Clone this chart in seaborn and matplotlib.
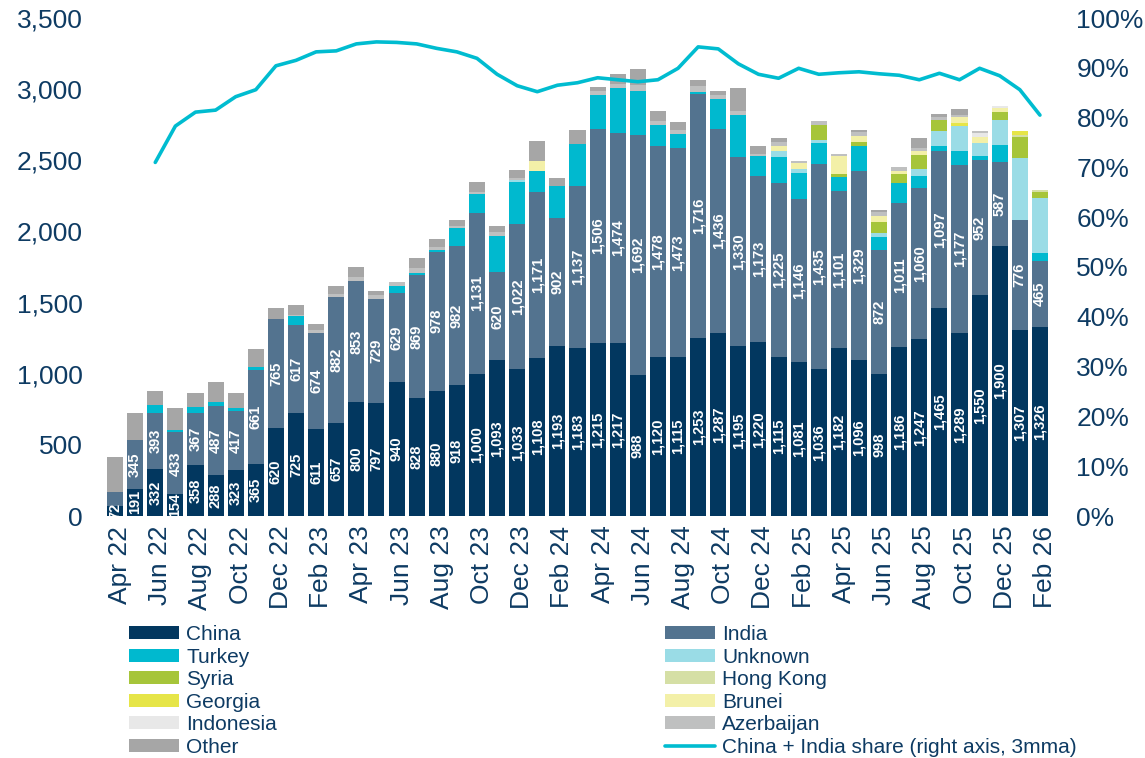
import matplotlib
matplotlib.use("Agg")
import matplotlib.pyplot as plt
from matplotlib.lines import Line2D
from matplotlib.patches import Patch, Rectangle
from matplotlib.ticker import FuncFormatter
from matplotlib.transforms import ScaledTranslation
import numpy as np
import pandas as pd
import seaborn as sns

# Monthly arrivals by origin, Apr 22 .. Feb 26
MONTHS = pd.date_range("2022-04-01", "2026-02-01", freq="MS").strftime("%b %y").tolist()

CHINA = [72, 191, 332, 154, 358, 288, 323, 365, 620, 725, 611, 657, 800, 797, 940, 828,
         880, 918, 1000, 1093, 1033, 1108, 1193, 1183, 1215, 1217, 988, 1120, 1115, 1253,
         1287, 1195, 1220, 1115, 1081, 1036, 1182, 1096, 998, 1186, 1247, 1465, 1289, 1550,
         1900, 1307, 1326]
INDIA = [95, 345, 393, 433, 367, 487, 417, 661, 765, 617, 674, 882, 853, 729, 629, 869,
         978, 982, 1131, 620, 1022, 1171, 902, 1137, 1506, 1474, 1692, 1478, 1473, 1716,
         1436, 1330, 1173, 1225, 1146, 1435, 1101, 1329, 872, 1011, 1060, 1097, 1177, 952,
         587, 776, 465]
TURKEY = [0, 0, 54, 20, 43, 25, 16, 21, 0, 62, 0, 0, 0, 0, 50, 14,
          14, 122, 130, 255, 295, 145, 225, 293, 235, 320, 310, 150, 95, 14,
          211, 290, 135, 185, 182, 147, 98, 175, 91, 140, 84, 35, 98, 28,
          119, 0, 56]
UNKNOWN = [0] * 20 + [14] + [0] * 12 + [42, 28, 28, 0, 0, 28, 0, 49, 112, 175, 91, 175, 435, 386]
SYRIA = [0] * 35 + [105, 21, 28, 77, 70, 98, 77, 0, 0, 56, 147, 42]
HONG_KONG = [0] * 45 + [14, 14]
GEORGIA = [0] * 42 + [21, 0, 0, 28, 0]
BRUNEI = [0] * 21 + [70] + [0] * 11 + [35, 42, 0, 126, 42, 42, 21, 28, 0, 42, 42, 28, 0, 0]
INDONESIA = [0] * 43 + [28, 14, 0, 0]
AZERBAIJAN = [0, 0, 0, 0, 0, 0, 0, 0, 0, 12, 25, 20, 28, 28, 28, 35,
              21, 14, 14, 28, 14, 0, 0, 0, 28, 28, 42, 28, 28, 42,
              28, 28, 14, 28, 14, 28, 14, 28, 28, 28, 21, 21, 14, 14,
              0, 0, 0]
OTHER = [245, 185, 98, 155, 98, 140, 110, 126, 75, 70, 42, 56, 70, 28, 0, 70,
         56, 42, 70, 42, 56, 140, 56, 98, 28, 70, 112, 70, 56, 42,
         28, 168, 56, 28, 0, 0, 0, 14, 14, 0, 70, 21, 42, 0,
         0, 0, 0]

# China + India share, 3-month moving average (starts Jun 22)
SHARE_MONTHS = MONTHS[2:]
SHARE = [71.0, 78.3, 81.1, 81.5, 84.2, 85.6, 90.4, 91.5, 93.2, 93.4, 94.8, 95.2, 95.1,
         94.8, 93.9, 93.2, 91.9, 88.7, 86.4, 85.2, 86.5, 87.0, 88.0, 87.6, 87.2, 87.6,
         89.9, 94.2, 93.8, 90.8, 88.7, 87.9, 89.9, 88.7, 89.0, 89.2, 88.8, 88.5, 87.6,
         88.9, 87.6, 89.9, 88.4, 85.6, 80.5]

SERIES = [
    ("China", CHINA, "#02375f"),
    ("India", INDIA, "#53738f"),
    ("Turkey", TURKEY, "#00b9cf"),
    ("Unknown", UNKNOWN, "#9adce6"),
    ("Syria", SYRIA, "#a6c53a"),
    ("Hong Kong", HONG_KONG, "#d5dfa5"),
    ("Georgia", GEORGIA, "#e6e548"),
    ("Brunei", BRUNEI, "#f3f0a8"),
    ("Indonesia", INDONESIA, "#e8e8e8"),
    ("Azerbaijan", AZERBAIJAN, "#bfc0c0"),
    ("Other", OTHER, "#a6a6a6"),
]
LINE_COLOR = "#00bcd0"
TEXT_COLOR = "#0e3b63"

sns.set_theme(style="white")
plt.rcParams["font.family"] = ["Liberation Sans", "DejaVu Sans"]

df = pd.DataFrame({"month": MONTHS})
for name, vals, _ in SERIES:
    df[name] = vals
names = [s[0] for s in SERIES]
cum = df[names].cumsum(axis=1)
cum["month"] = MONTHS

fig = plt.figure(figsize=(11.45, 7.58), dpi=100)
ax = fig.add_axes([105 / 1145, 242 / 758, 945 / 1145, 498 / 758])

# stacked bars: draw cumulative totals from the top series down
for name, _, color in reversed(SERIES):
    sns.barplot(data=cum, x="month", y=name, order=MONTHS, color=color, saturation=1,
                width=0.8, linewidth=0, errorbar=None, ax=ax)

# value labels for China and India, clipped to their segment
bottoms = {"China": np.zeros(len(MONTHS)), "India": np.array(CHINA, dtype=float)}
for name, vals in (("China", CHINA), ("India", INDIA)):
    for i, v in enumerate(vals):
        if name == "India" and i == 0:
            continue
        b = bottoms[name][i]
        clip = Rectangle((i - 0.4, b), 0.8, v, transform=ax.transData)
        t = ax.text(i, b + v / 2, f"{v:,}", rotation=90, ha="center", va="center",
                    color="white", fontsize=10.5, fontweight="bold")
        t.set_clip_path(clip)

ax.set_xlim(-0.5, len(MONTHS) - 0.5)
ax.set_ylim(0, 3500)
ax.set_yticks(np.arange(0, 3501, 500))
ax.yaxis.set_major_formatter(FuncFormatter(lambda v, _: f"{v:,.0f}"))
ax.set_xticks(range(0, len(MONTHS), 2))
ax.set_xticklabels(MONTHS[::2])
ax.tick_params(axis="x", rotation=90, length=0, pad=7, labelsize=19, colors=TEXT_COLOR)
ax.tick_params(axis="y", length=0, pad=16, labelsize=19, colors=TEXT_COLOR)
shift = ScaledTranslation(5 / 100, 0, fig.dpi_scale_trans)
for lab in ax.get_xticklabels():
    lab.set_transform(lab.get_transform() + shift)
ax.set_xlabel("")
ax.set_ylabel("")
for sp in ax.spines.values():
    sp.set_visible(False)

ax2 = ax.twinx()
share_x = [MONTHS.index(m) for m in SHARE_MONTHS]
sns.lineplot(x=share_x, y=np.array(SHARE) / 100, color=LINE_COLOR, linewidth=2.6, ax=ax2)
ax2.set_ylim(0, 1)
ax2.set_yticks(np.arange(0, 1.01, 0.1))
ax2.yaxis.set_major_formatter(FuncFormatter(lambda v, _: f"{v * 100:.0f}%"))
ax2.tick_params(axis="y", length=0, pad=19, labelsize=19, colors=TEXT_COLOR)
ax2.set_xlim(-0.5, len(MONTHS) - 0.5)
for sp in ax2.spines.values():
    sp.set_visible(False)

# legend in two columns, as in the source layout
colors = {n: c for n, _, c in SERIES}
left_names = ["China", "Turkey", "Syria", "Georgia", "Indonesia", "Other"]
right_names = ["India", "Unknown", "Hong Kong", "Brunei", "Azerbaijan"]
leg_kw = dict(loc="upper left", frameon=False, fontsize=15, handlelength=2.4,
              handleheight=0.58, handletextpad=0.35, labelspacing=0.17,
              borderpad=0, borderaxespad=0, labelcolor=TEXT_COLOR)
fig.legend([Patch(facecolor=colors[n], edgecolor="none") for n in left_names], left_names,
           bbox_to_anchor=(129 / 1145, 1 - 625 / 758), **leg_kw)
right_handles = [Patch(facecolor=colors[n], edgecolor="none") for n in right_names]
right_handles.append(Line2D([], [], color=LINE_COLOR, linewidth=2.6))
fig.legend(right_handles, right_names + ["China + India share (right axis, 3mma)"],
           bbox_to_anchor=(665 / 1145, 1 - 625 / 758), **leg_kw)

fig.savefig("out.png", dpi=100)
